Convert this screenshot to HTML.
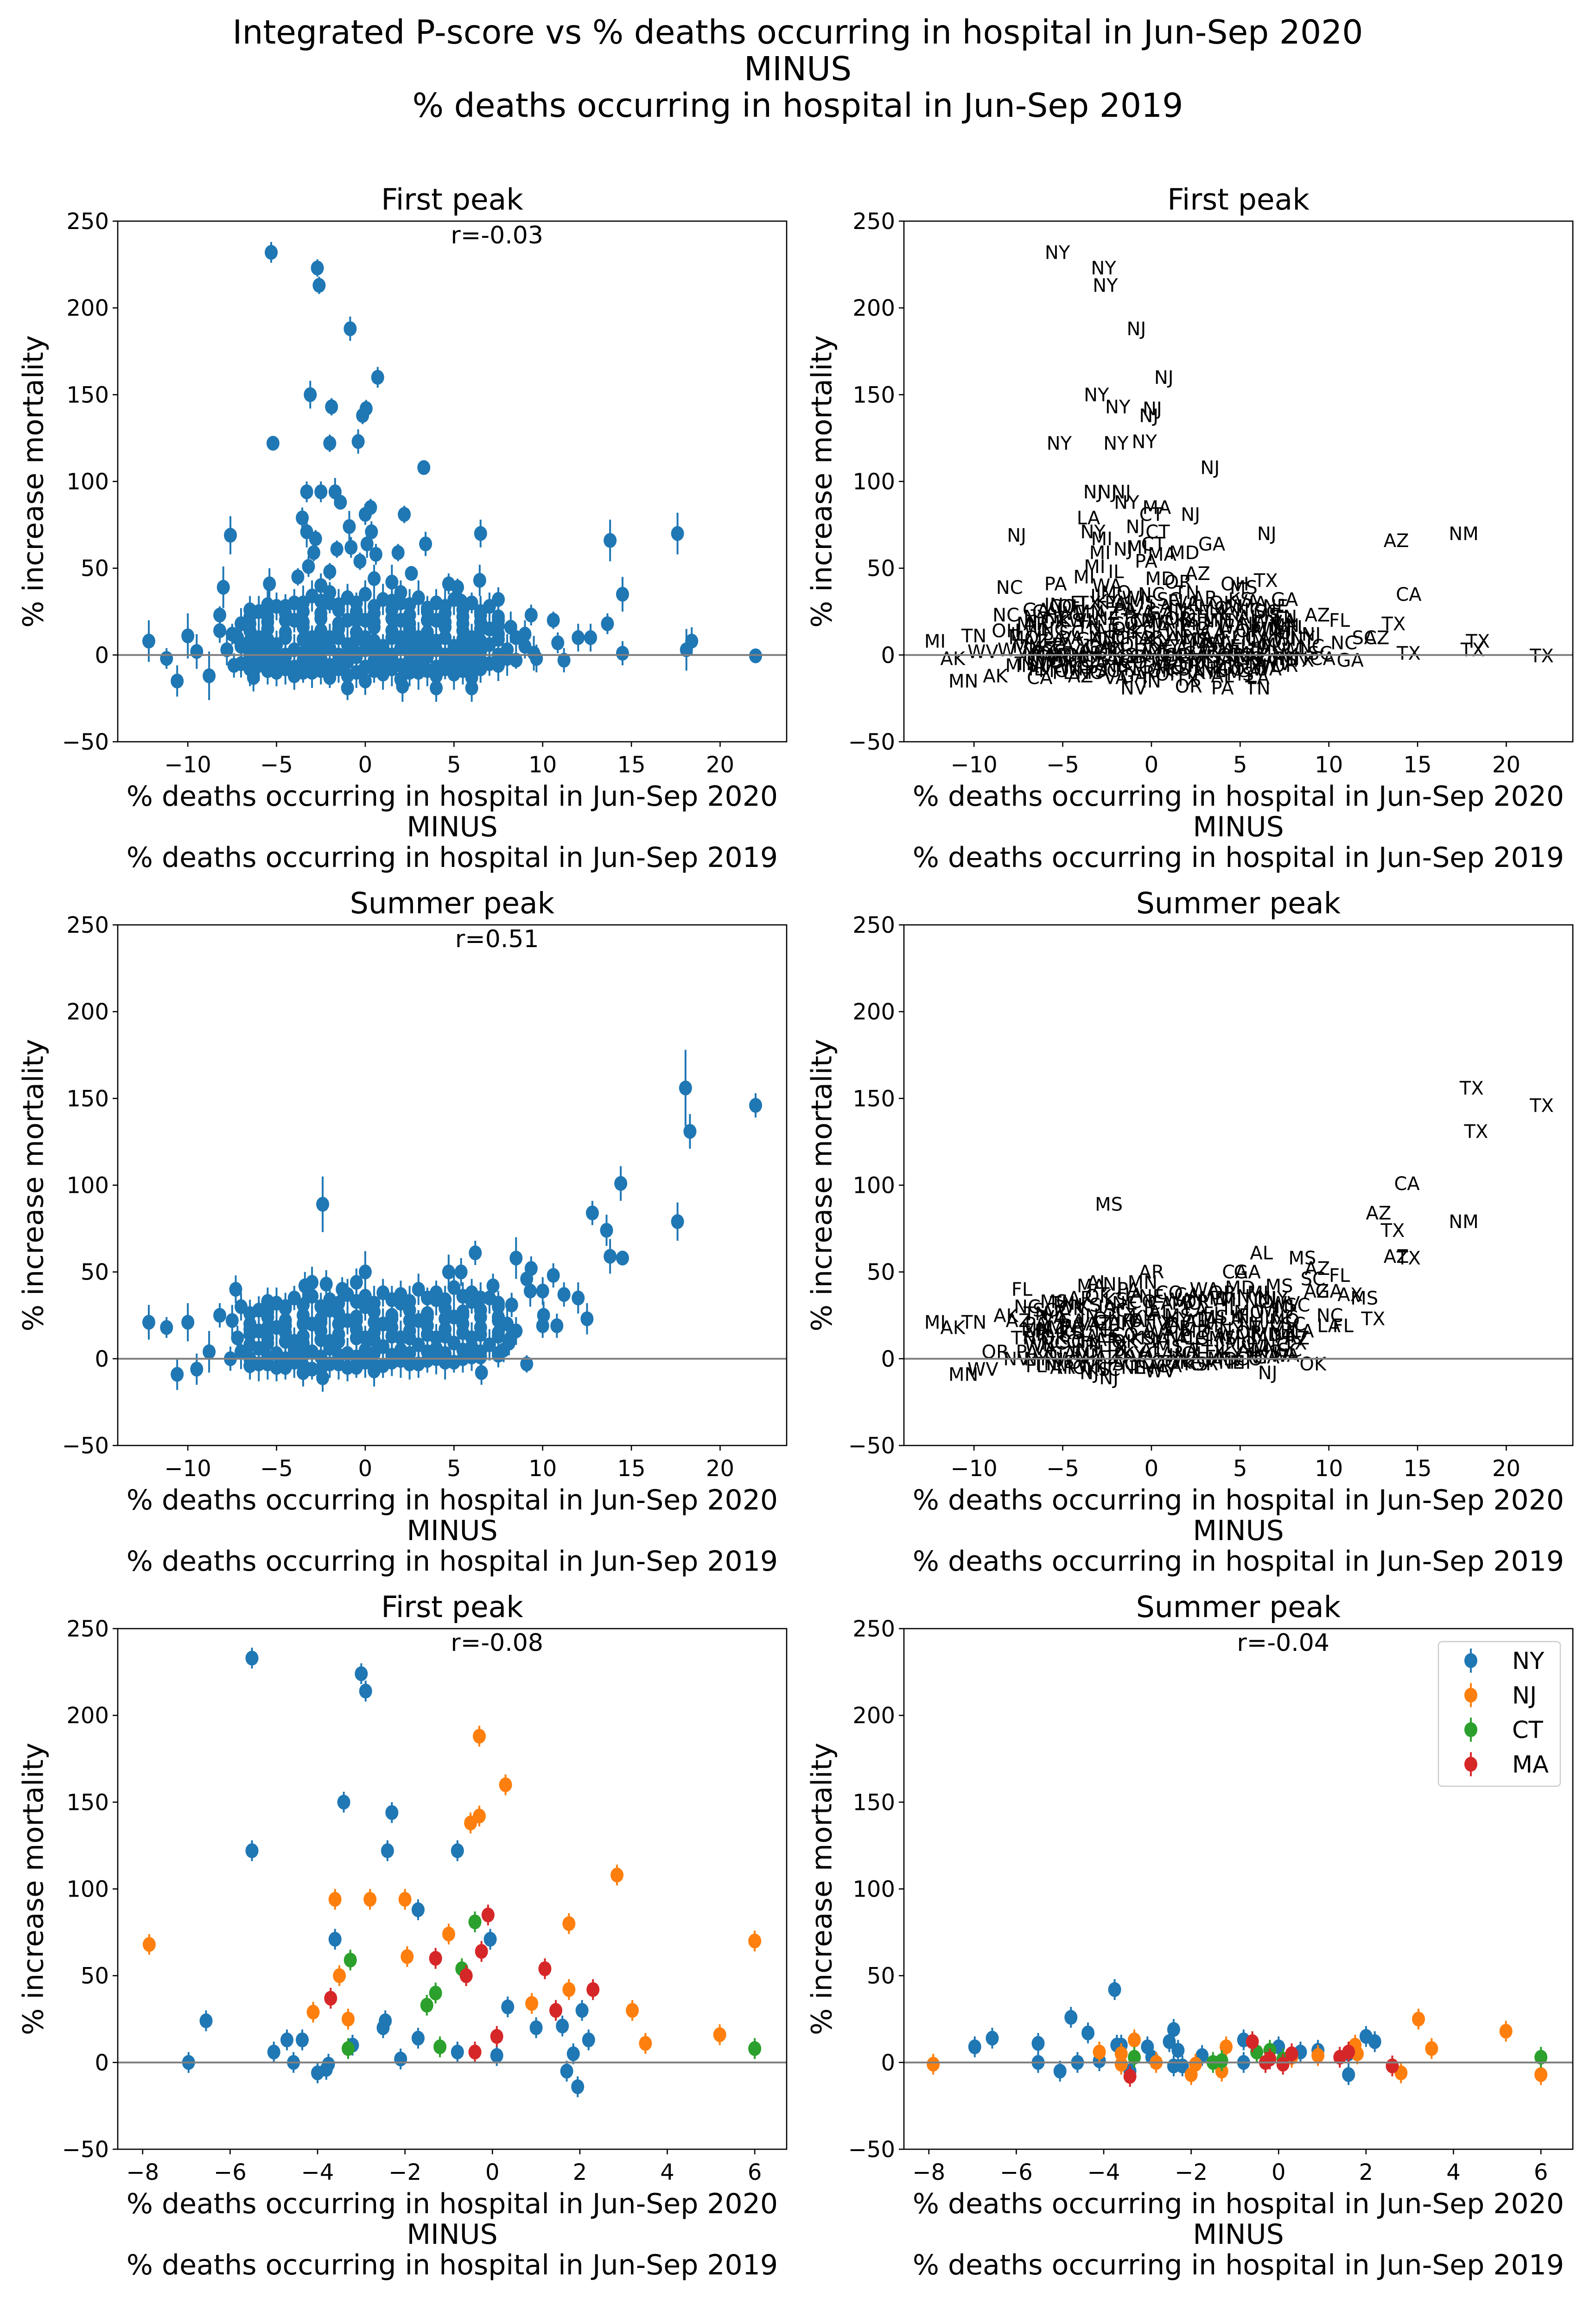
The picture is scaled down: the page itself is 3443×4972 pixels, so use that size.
<!DOCTYPE html>
<html><head><meta charset="utf-8">
<style>
html,body{margin:0;padding:0;background:#fff;}
svg{display:block;font-family:"DejaVu Sans","Liberation Sans",sans-serif;}
</style></head>
<body>
<svg id="fig" width="3443" height="4972" viewBox="0 0 3443 4972" xmlns="http://www.w3.org/2000/svg">
<rect width="3443" height="4972" fill="#fff"/>
<g font-size="71" text-anchor="middle" fill="#000">
<text x="1721" y="94">Integrated P-score vs % deaths occurring in hospital in Jun-Sep 2020</text>
<text x="1721" y="173">MINUS</text>
<text x="1721" y="252">% deaths occurring in hospital in Jun-Sep 2019</text>
</g>
</svg>
<script>
// ---------- DATA ----------
const fillX = [-6.5,-5.5,-4.5,-3.5,-2.5,-1.5,-0.5,0.5,1.5,2.5,3.5,4.5,5.5,6.5,7.5];
const fpFillA = [26,29,28,30,31,29,30,28,31,29,27,28,26,25,22];
const fpFillB = [18,19,20,19,21,18,20,19,21,18,20,19,18,19,17];
const fpFillC = [8,9,10,9,8,10,9,8,10,9,8,10,9,8,9];
const fpFillD = [1,2,0,1,2,0,1,2,0,1,2,0,1,2,0];
const fpFillE = [-2,-3,-1,-3,-2,-3,-1,-3,-2,-3,-1,-3,-2,-3,-2];
const fpFillF = [-8,-9,-8,-10,-9,-8,-10,-9,-8,-10,-9,-8,-9,-8,-6];
const spFillA = [26,27,29,31,30,32,33,32,34,33,35,34,36,35,32];
const spFillB = [17,18,19,20,21,20,22,21,23,22,24,23,25,24,22];
const spFillC = [8,9,10,9,11,10,12,11,13,12,14,13,15,14,13];
const spFillD = [0,1,0,2,1,2,1,3,2,3,4,3,5,4,3];
const spFillE = [-4,-3,-5,-4,-6,-3,-5,-4,-2,-3,-1,-2,0,1,2];

// First peak, all counties (outliers + dense cluster)
const fpX = [-5.3,-2.7,-2.6,-0.85,0.7,-3.1,-1.9,0.05,-0.15,-5.2,-2.0,-0.4,3.3,-3.3,-2.5,-1.7,-1.4,0.3,0.0,2.2,-3.55,-0.9,-3.3,0.35,-2.8,-7.6,6.5,13.8,17.6,3.4,-1.6,-0.8,-2.9,0.1,1.85,-3.2,-2.0,-0.3,0.6,-5.4,-8.0,-3.8,2.6,4.7,5.2,6.45,14.5,7.5,5.4,-8.2,9.35,10.6,13.65,-12.2,-11.2,-10.6,-10.0,-9.5,-8.8,-8.2,12.0,12.7,14.5,18.1,18.4,22.0,11.2,9.65,10.85,8.5,4.0,6.0,2.1,-1.0,-6.3,-7.4,
 -4,-3,-2,-1,0,1,2,3,4,5,6,7,-5,-6,-2.5,1.5,0.5,
 -7,-6.5,-5.5,-4.5,-3.5,-2.5,-1.5,-0.5,0.5,1.5,2.5,3.5,4.5,5.5,6.5,7.5,8.2,-7.5,
 -7.2,-6.5,-5.5,-4.5,-3.5,-2.5,-1.5,-0.5,0.5,1.5,2.5,3.5,4.5,5.5,6.5,7.5,8.5,9,
 -7.8,-7,-6,-5,-4,-3,-2,-1,0,1,2,3,4,5,6,7,8,9,9.5,
 -7,-6,-5,-4,-3,-2,-1,0,1,2,3,4,5,6,7,8,
 -4,-3,-2,-1,0,1,2,3,4,5,6,-5,
 -6,-5,-4,-3,-2,-1,0,1,2,3,4,5,6,7,-1,3,0,2,-3,4,-6,6,-2,2].concat(fillX,fillX,fillX,fillX,fillX,fillX);
const fpY = [232,223,213,188,160,150,143,142,138,122,122,123,108,94,94,94,88,85,81,81,79,74,71,71,67,69,70,66,70,64,61,62,59,64,59,51,48,54,58,41,39,45,47,41,39,43,35,32,31,23,23,20,18,8,-2,-15,11,2,-12,14,10,10,1,3,8,-0.5,-3,-2,7,-3,-19,-19,-18,-19,-13,-6,
 30,34,36,33,35,32,36,33,30,32,30,28,28,25,40,42,44,
 18,22,22,24,25,24,26,25,24,26,23,25,24,22,23,20,16,12,
 10,14,15,13,16,14,15,13,16,14,15,13,16,14,15,12,10,12,
 3,5,4,6,3,5,4,6,3,5,4,6,3,5,4,6,3,5,1,
 -5,-6,-4,-7,-5,-6,-4,-7,-5,-6,-4,-7,-5,-6,-5,-2,
 -12,-10,-13,-12,-15,-11,-14,-10,-12,-11,-13,-10,
 10,0,20,0,10,20,10,0,20,10,20,0,10,15,-1,-1,20,10,10,8,0,0,30,30].concat(fpFillA,fpFillB,fpFillC,fpFillD,fpFillE,fpFillF);
const fpErrOut = [6,5,5,7,6,8,5,5,5,4,5,7,4,6,6,8,4,5,6,5,6,9,9,6,5,11,8,12,12,7,5,6,5,8,5,6,5,5,6,9,12,5,4,6,5,9,10,7,6,5,6,5,6,12,6,9,13,10,14,7,8,8,7,12,8,3,7,8,6,5,8,8,9,7,8,7];
const fpStates = ["NY","NY","NY","NJ","NJ","NY","NY","NJ","NJ","NY","NY","NY","NJ","NJ","NJ","NJ","NY","MA","CT","NJ","LA","NJ","NY","CT","MI","NJ","NJ","AZ","NM","GA","NJ","MI","MI","CT","MD","MI","IL","PA","MA","PA","NC","MI","AZ","OH","MS","TX","CA","GA","VA","NC","AZ","FL","TX","MI","AK","MN","TN","WV","AK","OH","SC","AZ","TX","TX","TX","TX","GA","CA","NC","TX","PA","TN","OR","NV","CA","MN"];
const statePool = ["PA","VA","GA","IN","OH","TX","KY","AL","MS","LA","FL","IL","MO","WI","NC","SC","TN","AR","OK","KS","IA","NE","CO","CA","WA","OR","MD","MI","NY","NJ","WV","MN","AZ"];

// Summer peak, all counties
const spX = [18.05,22,18.3,14.4,-2.4,12.8,17.6,13.6,13.8,14.5,6.2,8.5,9.35,10.6,9.1,12,12.5,10.8,10,10.05,9.3,11.2,10,9.1,-12.2,-11.2,-10,-10.6,-9.5,-8.8,-7.6,-7.3,-8.2,0,4.7,5.4,-3.4,-3,-2.2,-1.3,-5.5,-2.4,6.55,8.1,8.5,8.25,7.2,
 -7,-6,-5,-4,-3,-2,-1,0,1,2,3,4,5,6,7,7.5,-4.5,-0.5,
 -7.5,-6.5,-5.5,-4.5,-3.5,-2.5,-1.5,-0.5,0.5,1.5,2.5,3.5,4.5,5.5,6.5,7.5,8,
 -7.2,-6.5,-5.5,-4.5,-3.5,-2.5,-1.5,-0.5,0.5,1.5,2.5,3.5,4.5,5.5,6.5,7.5,8.2,
 -7,-6,-5,-4,-3,-2,-1,0,1,2,3,4,5,6,7,7.8,
 -6,-5,-4,-3,-2,-1,0,1,2,3,4,5,6,-3.5,0.5,
 -5,-3,-1,1,3,5,-4,-2,0,2,4,6,-6,0,2,4,6,-2].concat(fillX,fillX,fillX,fillX,fillX);
const spY = [156,146,131,101,89,84,79,74,59,58,61,58,52,48,46,35,23,19,19,25,39,37,39,-3,21,18,21,-9,-6,4,0,40,25,50,50,50,42,44,43,40,33,-11,-8,9,16,31,42,
 30,28,32,35,36,34,37,36,38,37,40,38,41,38,35,30,30,44,
 22,20,24,22,25,23,26,24,27,25,28,26,29,27,28,24,20,
 12,14,12,15,13,16,14,17,15,18,16,19,17,20,18,15,12,
 4,6,3,5,4,6,3,5,7,5,8,6,9,7,8,5,
 -3,-5,-2,-6,-3,-5,-2,-4,-1,-3,0,-2,1,-8,-7,
 18,20,22,20,22,24,10,10,12,12,12,12,16,30,32,34,33,28].concat(spFillA,spFillB,spFillC,spFillD,spFillE);
const spErrOut = [22,7,10,10,16,7,11,9,10,4,7,12,7,7,8,9,9,7,7,8,9,7,8,5,10,6,11,9,9,12,7,8,7,12,10,8,8,9,8,7,8,8,7,7,8,7,7];
const spStates = ["TX","TX","TX","CA","MS","AZ","NM","TX","AZ","TX","AL","MS","AZ","FL","SC","MS","TX","FL","LA","NC","AZ","AX","GA","OK","MI","AK","TN","MN","WV","OR","NV","FL","AK","AR","CA","GA","MA","AL","NJ","PA","MS","NJ","NJ","TX","LA","SC","MS"];
const clusterErr = [8,9,7,10,8,9,6,8];

// NY / NJ / CT / MA, first peak
const nyX1 = [-5.5,-3.0,-2.9,-3.4,-2.3,-5.5,-2.4,-0.8,-1.7,-3.6,-0.05,-6.55,-6.95,-5.0,-4.7,-4.55,-4.35,-4.0,-3.8,-3.75,-3.2,-2.5,-2.45,-2.1,-1.7,-0.8,0.1,0.35,1.0,1.6,1.85,1.95,1.7,2.05,2.2];
const nyY1 = [233,224,214,150,144,122,122,122,88,71,71,24,0,6,13,0,13,-6,-4,-1,10,20,24,2,14,6,4,32,20,21,5,-14,-5,30,13];
const njX1 = [-7.85,-0.3,0.3,-0.3,-0.5,2.85,-3.6,-2.8,-2.0,1.75,-1.0,-1.95,-3.5,-4.1,-3.3,1.75,0.9,3.2,3.5,5.2,6.0];
const njY1 = [68,188,160,142,138,108,94,94,94,80,74,61,50,29,25,42,34,30,11,16,70];
const ctX1 = [-0.4,-3.25,-1.3,-1.5,-3.3,-1.2,-0.7,6.0];
const ctY1 = [81,59,40,33,8,9,54,8];
const maX1 = [-0.1,-3.7,-1.3,-0.25,-0.6,1.2,1.45,2.3,0.1,-0.4];
const maY1 = [85,37,60,64,50,54,30,42,15,6];

// NY / NJ / CT / MA, summer peak
const nyX2 = [-3.75,-4.75,-4.36,-6.55,-6.95,-5.5,-5.5,-5.0,-4.6,-4.1,-3.7,-3.6,-3.4,-3.0,-2.9,-2.4,-2.5,-2.3,-2.4,-1.75,-0.8,-0.8,0.0,0.5,0.9,1.6,1.6,2.0,2.2,-2.2];
const nyY2 = [42,26,17,14,9,11,0,-5,0,1,10,10,-5,9,3,19,12,7,-2,4,13,0,9,6,7,5,-7,15,12,-2];
const njX2 = [-7.9,-4.1,-3.6,-3.6,-3.3,-2.8,-2.0,-1.9,-1.2,-1.3,0.3,0.9,1.75,1.8,2.8,3.2,3.5,5.2,6.0];
const njY2 = [-1,6,5,-1,13,0,-7,-1,9,-5,3,4,10,5,-6,25,8,18,-7];
const ctX2 = [-3.3,-1.5,-1.3,-0.5,-0.2,6.0,0.1];
const ctY2 = [3,0,1,6,7,3,2];
const maX2 = [-3.4,-0.6,-0.2,0.1,0.3,1.4,1.6,2.6,-0.3];
const maY2 = [-8,12,2,-1,5,3,6,-2,0];

const yTicks = [-50,0,50,100,150,200,250];
const xTicksWide = [-10,-5,0,5,10,15,20];
const xTicksNarrow = [-8,-6,-4,-2,0,2,4,6];
const rValues = ["r=-0.03","","r=0.51","","r=-0.08","r=-0.04"];

// ---------- DRAWING ----------
const NS = "http://www.w3.org/2000/svg";
const svg = document.getElementById("fig");
const C = {NY:"#1f77b4",NJ:"#ff7f0e",CT:"#2ca02c",MA:"#d62728"};
function el(tag, attrs, parent){
  const e = document.createElementNS(NS, tag);
  for (const k in attrs) e.setAttribute(k, attrs[k]);
  (parent||svg).appendChild(e);
  return e;
}
const AX_L = 254, AX_R = 1697, AX_T = 477, AX_B = 1600, COL_DX = 1696, ROW_DY = 1518;
const YMIN = -50, YMAX = 250;

function makeAxes(col,row,xmin,xmax,xticks,title,rtxt){
  const L = AX_L + col*COL_DX, R = AX_R + col*COL_DX, T = AX_T + row*ROW_DY, B = AX_B + row*ROW_DY;
  const sx = v => L + (v - xmin)/(xmax - xmin)*(R - L);
  const sy = v => B - (v - YMIN)/(YMAX - YMIN)*(B - T);
  const g = el("g",{});
  
  
  const data = el("g",{},g);
  
  
  const zl = el("line",{x1:L,x2:R,y1:sy(0),y2:sy(0),stroke:"#808080","stroke-width":4},g);
  
  
  const fr = el("rect",{x:L,y:T,width:R-L,height:B-T,fill:"none",stroke:"#000","stroke-width":2.6},g);
  
  
  for (const t of yTicks){
    const y = sy(t);
    const tk = el("line",{x1:L-11,x2:L,y1:y,y2:y,stroke:"#000","stroke-width":2.6},g);
    
    
    const tl = el("text",{x:L-19,y:y+17,"font-size":48,"text-anchor":"end"},g);
    tl.textContent = String(t).replace("-","\u2212");
    
    
  }
  for (const t of xticks){
    const x = sx(t);
    const tk = el("line",{x1:x,x2:x,y1:B,y2:B+11,stroke:"#000","stroke-width":2.6},g);
    
    
    const tl = el("text",{x:x,y:B+66,"font-size":48,"text-anchor":"middle"},g);
    tl.textContent = String(t).replace("-","\u2212");
    
    
  }
  const cx = (L+R)/2;
  const ti = el("text",{x:cx,y:T-25,"font-size":63,"text-anchor":"middle"},g);
  ti.textContent = title;
  
  
  if (rtxt){
    const rt = el("text",{x:L+0.567*(R-L),y:T+48,"font-size":52,"text-anchor":"middle"},g);
    rt.textContent = rtxt;
    
    
  }
  const xl = ["% deaths occurring in hospital in Jun-Sep 2020","MINUS","% deaths occurring in hospital in Jun-Sep 2019"];
  xl.forEach((s,i)=>{
    const t = el("text",{x:cx,y:B+138+i*66,"font-size":60,"text-anchor":"middle"},g);
    t.textContent = s;
    
    
  });
  const yx = 76 + col*(1777-76), yy = (T+B)/2;
  const yl = el("text",{x:yx,y:yy,"font-size":61,"text-anchor":"middle","dominant-baseline":"middle",transform:`rotate(-90 ${yx} ${yy})`},g);
  yl.textContent = "% increase mortality";
  
  
  return {sx,sy,g:data};
}

function dots(ax, xs, ys, errs, color, name){
  for (let i=0;i<xs.length;i++){
    const ev = errs ? (i < errs.length ? errs[i] : clusterErr[i % clusterErr.length]) : 6;
    const x = ax.sx(xs[i]), y = ax.sy(ys[i]), e = ev*(1123/300);
    const ln = el("line",{x1:x,x2:x,y1:y-e,y2:y+e,stroke:color,"stroke-width":4},ax.g);
    
    
    const c = el("ellipse",{cx:x,cy:y,rx:14,ry:16,fill:color},ax.g);
    
    
  }
}
function labels(ax, xs, ys, sts){
  for (let i=0;i<xs.length;i++){
    const s = i < sts.length ? sts[i] : statePool[i % statePool.length];
    const t = el("text",{x:ax.sx(xs[i]),y:ax.sy(ys[i])+14,"font-size":40,"text-anchor":"middle"},ax.g);
    t.textContent = s;
    
    
  }
}

const WX0 = -13.95, WX1 = 23.75, NX0 = -8.57, NX1 = 6.73;
const a00 = makeAxes(0,0,WX0,WX1,xTicksWide,"First peak",rValues[0]);
dots(a00, fpX, fpY, fpErrOut, C.NY, "county");
const a01 = makeAxes(1,0,WX0,WX1,xTicksWide,"First peak",rValues[1]);
labels(a01, fpX, fpY, fpStates);
const a10 = makeAxes(0,1,WX0,WX1,xTicksWide,"Summer peak",rValues[2]);
dots(a10, spX, spY, spErrOut, C.NY, "county");
const a11 = makeAxes(1,1,WX0,WX1,xTicksWide,"Summer peak",rValues[3]);
labels(a11, spX, spY, spStates);
const a20 = makeAxes(0,2,NX0,NX1,xTicksNarrow,"First peak",rValues[4]);
dots(a20, nyX1, nyY1, null, C.NY, "ny");
dots(a20, njX1, njY1, null, C.NJ, "nj");
dots(a20, ctX1, ctY1, null, C.CT, "ct");
dots(a20, maX1, maY1, null, C.MA, "ma");
const a21 = makeAxes(1,2,NX0,NX1,xTicksNarrow,"Summer peak",rValues[5]);
dots(a21, nyX2, nyY2, null, C.NY, "ny");
dots(a21, njX2, njY2, null, C.NJ, "nj");
dots(a21, ctX2, ctY2, null, C.CT, "ct");
dots(a21, maX2, maY2, null, C.MA, "ma");

// legend
const lg = el("g",{});


const lb = el("rect",{x:3103,y:3541,width:263,height:312,rx:8,fill:"#fff",stroke:"#ccc","stroke-width":2.5},lg);


["NY","NJ","CT","MA"].forEach((s,i)=>{
  const y = 3582 + i*74.5;
  const ln = el("line",{x1:3173,x2:3173,y1:y-26,y2:y+26,stroke:C[s],"stroke-width":4},lg);
  
  
  const c = el("ellipse",{cx:3173,cy:y,rx:14,ry:16,fill:C[s]},lg);
  
  
  const t = el("text",{x:3262,y:y+18,"font-size":51},lg);
  t.textContent = s;
  
  
});
</script>
</body></html>
